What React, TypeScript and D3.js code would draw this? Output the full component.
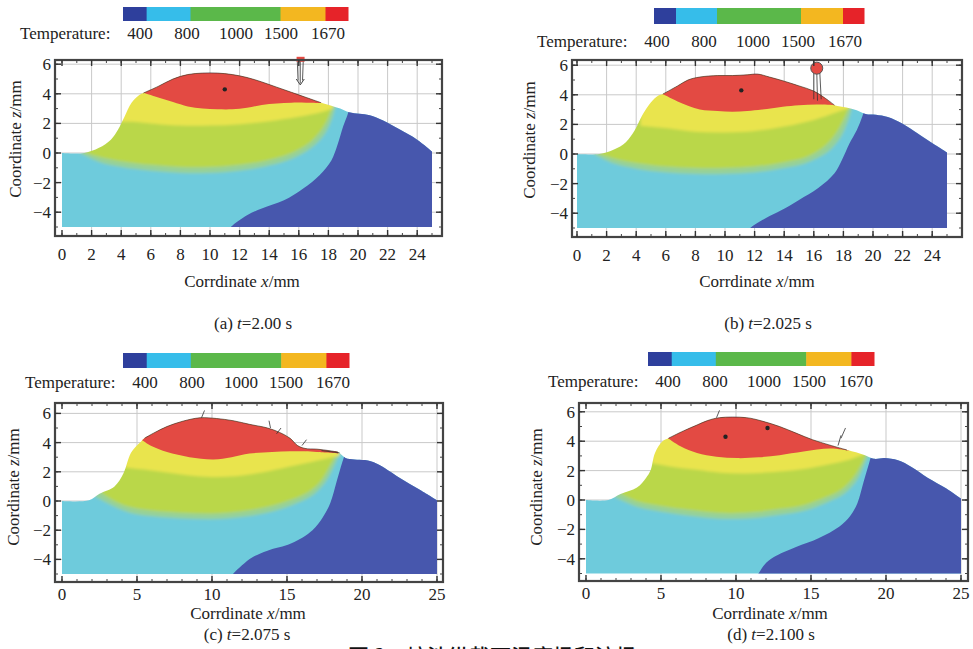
import React from 'react';
import * as d3 from 'd3';

type Pt = [number, number];

// ---- data (mm) ----
const temperatures = ['400', '800', '1000', '1500', '1670'];
const barColors = ['#2e3f9c', '#36bdea', '#5bb84a', '#f3b720', '#e62329'];
const barStops = [0, 0.105, 0.3, 0.7, 0.9, 1];
const yTicks = [-4, -2, 0, 2, 4, 6];
const xTicksFine = [0, 2, 4, 6, 8, 10, 12, 14, 16, 18, 20, 22, 24];
const xTicksCoarse = [0, 5, 10, 15, 20, 25];

const surfaceA: Pt[] = [[0, 0], [1.5, 0], [2.5, 0.35], [3.3, 0.9], [3.8, 1.6], [4.2, 2.4], [4.7, 3.4], [5.2, 3.9], [5.5, 4.05], [6.5, 4.5], [7.5, 5.0], [8.5, 5.3], [9.5, 5.4], [10.5, 5.4], [11.5, 5.3], [12.5, 5.1], [13.5, 4.8], [14.5, 4.45], [15.5, 4.1], [16.5, 3.75], [17.5, 3.4], [18.2, 3.2], [18.8, 3.0], [19.4, 2.75], [20.1, 2.65], [20.8, 2.55], [21.7, 2.2], [22.8, 1.6], [24, 0.9], [25, 0.1]];
const redBottomA: Pt[] = [[5.4, 4.1], [6.5, 3.75], [7.5, 3.45], [8.5, 3.15], [9.5, 3.0], [10.5, 2.95], [11.5, 2.95], [12.5, 3.05], [13.5, 3.25], [14.5, 3.35], [15.5, 3.4], [16.5, 3.4], [17.6, 3.38]];
const yellowBottomA: Pt[] = [[4.0, 2.1], [5, 2.1], [6, 2.0], [8, 1.85], [10, 1.85], [12, 1.95], [14, 2.15], [16, 2.45], [17.5, 2.75], [18.3, 3.0]];
const greenBowlA: Pt[] = [[1.5, 0.05], [2.5, -0.25], [4, -0.55], [6, -0.8], [8, -0.95], [10, -0.95], [12, -0.8], [14, -0.45], [15.5, 0], [16.6, 0.6], [17.4, 1.4], [17.9, 2.2], [18.3, 3.2]];
const tealBowlA: Pt[] = [[1.2, 0.02], [2.5, -0.6], [4, -0.95], [6, -1.2], [8, -1.35], [10, -1.35], [12, -1.2], [14, -0.85], [15.5, -0.4], [16.8, 0.3], [17.7, 1.2], [18.2, 2.2], [18.5, 3.2]];
const blueEdgeA: Pt[] = [[19.6, 3.6], [19.3, 2.6], [19.0, 1.8], [18.6, 0.5], [18.2, -0.5], [17.4, -1.5], [16.3, -2.4], [15.0, -3.2], [13.5, -3.75], [12.5, -4.2], [11.4, -5.0], [11.0, -5.5]];
const dotsA: Pt[] = [[11, 4.3]];
const vectorsA = [[16.1, 6.3, 16.1, 4.7], [15.9, 6.2, 15.95, 4.9], [16.3, 6.2, 16.25, 4.9]];

const surfaceB: Pt[] = [[0, 0], [1.5, 0], [2.5, 0.3], [3.3, 0.8], [3.9, 1.6], [4.4, 2.6], [5.0, 3.5], [5.5, 3.95], [5.8, 4.05], [6.8, 4.6], [7.5, 5.0], [8.3, 5.2], [9.5, 5.3], [10.5, 5.3], [11.5, 5.35], [12.2, 5.4], [13, 5.2], [13.9, 4.95], [15, 4.6], [16, 4.25], [16.8, 3.75], [17.4, 3.3], [18.2, 3.15], [18.9, 2.95], [19.5, 2.7], [20.2, 2.65], [21, 2.5], [22, 2.05], [23, 1.4], [24.2, 0.6], [25, 0.1]];
const redBottomB: Pt[] = [[5.7, 4.1], [6.8, 3.55], [8.3, 3.0], [9.5, 2.9], [10.5, 2.85], [11.5, 2.9], [12.5, 3.0], [13.9, 3.2], [15, 3.3], [16.2, 3.35], [17.4, 3.3]];
const yellowBottomB: Pt[] = [[4.3, 1.9], [6, 1.75], [8, 1.5], [10, 1.45], [12, 1.55], [14, 1.85], [16, 2.3], [17.5, 2.8], [18.4, 3.1]];
const greenBowlB: Pt[] = [[1.4, 0.05], [2.5, -0.3], [4, -0.6], [6, -0.85], [8, -0.95], [10, -0.95], [12, -0.85], [14, -0.55], [15.5, -0.2], [16.7, 0.5], [17.5, 1.4], [18, 2.3], [18.4, 3.2]];
const tealBowlB: Pt[] = [[1.1, 0.02], [2.5, -0.65], [4, -1.0], [6, -1.25], [8, -1.35], [10, -1.35], [12, -1.25], [14, -0.95], [15.5, -0.6], [16.9, 0.1], [17.8, 1.1], [18.3, 2.2], [18.6, 3.2]];
const blueEdgeB: Pt[] = [[19.6, 3.6], [19.3, 2.6], [18.9, 1.6], [18.4, 0.7], [17.9, -0.4], [17.4, -1.3], [16.3, -2.3], [15, -3.1], [13.8, -3.8], [12.8, -4.3], [11.7, -5.0], [11.3, -5.5]];
const dotsB: Pt[] = [[11.1, 4.3]];
const vectorsB = [[16.0, 5.6, 16.0, 3.7], [16.2, 5.6, 16.25, 3.6], [16.4, 5.6, 16.5, 3.7]];
const dropletB: Pt = [16.2, 5.8];

const surfaceC: Pt[] = [[0, 0], [1.8, 0.05], [2.5, 0.5], [3.5, 1.0], [4.1, 1.9], [4.6, 3.3], [5.2, 4.0], [5.5, 4.3], [6.2, 4.7], [7, 5.1], [8, 5.45], [9.2, 5.7], [10.3, 5.65], [11.4, 5.5], [12.5, 5.25], [13.7, 5.0], [14.5, 4.7], [15.2, 4.3], [15.7, 3.8], [16.2, 3.6], [17, 3.55], [17.8, 3.45], [18.4, 3.35], [18.9, 2.95], [19.5, 2.85], [20.2, 2.8], [21, 2.55], [22.5, 1.6], [23.8, 0.8], [25, 0.05]];
const redBottomC: Pt[] = [[5.3, 4.2], [6, 3.75], [7, 3.35], [8.5, 3.0], [10.1, 2.85], [11.3, 3.0], [12.5, 3.25], [14, 3.35], [15.2, 3.4], [16.2, 3.4], [17, 3.35], [18.4, 3.25]];
const yellowBottomC: Pt[] = [[4.2, 2.3], [5.5, 2.15], [7, 1.95], [8.5, 1.75], [10, 1.65], [11.5, 1.7], [13, 1.9], [14.7, 2.25], [16.3, 2.6], [17.6, 2.9], [18.5, 3.1]];
const greenBowlC: Pt[] = [[2.6, 0.6], [3.5, 0], [4.5, -0.4], [6, -0.65], [8, -0.8], [10, -0.85], [12, -0.7], [13.7, -0.4], [15.3, 0.1], [16.4, 0.6], [17.2, 1.3], [17.8, 2.3], [18.3, 3.2]];
const tealBowlC: Pt[] = [[2.2, 0.3], [3.5, -0.4], [4.5, -0.8], [6, -1.05], [8, -1.2], [10, -1.25], [12, -1.1], [13.7, -0.8], [15.3, -0.3], [16.6, 0.3], [17.5, 1.2], [18.1, 2.3], [18.5, 3.2]];
const blueEdgeC: Pt[] = [[19.0, 3.6], [18.7, 2.7], [18.3, 1.3], [17.9, -0.1], [17.4, -1.1], [16.7, -2.0], [15.3, -2.9], [13.7, -3.4], [12.7, -3.85], [12, -4.4], [11.4, -5.0], [11.0, -5.5]];
const dotsC: Pt[] = [];
const vectorsC = [[9.3, 5.7, 9.5, 6.2], [13.9, 5.0, 13.8, 5.5], [14.3, 4.6, 14.6, 5.0], [16.0, 3.8, 16.3, 4.2], [17.3, 3.45, 18.5, 3.3]];

const surfaceD: Pt[] = [[0, 0], [1.5, 0], [2.3, 0.4], [3.4, 0.85], [4.0, 1.5], [4.3, 2.0], [4.6, 3.2], [5.1, 4.0], [5.5, 4.2], [6.5, 4.7], [7.4, 5.1], [8.1, 5.4], [8.9, 5.6], [10.7, 5.6], [11.8, 5.35], [12.9, 5.0], [14, 4.55], [15.1, 4.1], [16.2, 3.75], [17.4, 3.4], [18, 3.25], [18.6, 3.05], [19.2, 2.8], [19.9, 2.85], [20.8, 2.7], [21.7, 2.25], [22.8, 1.5], [24, 0.8], [25, 0.1]];
const redBottomD: Pt[] = [[5.4, 4.25], [6.3, 3.65], [7.4, 3.2], [8.7, 2.95], [10.1, 2.85], [11.5, 2.9], [12.9, 3.05], [14.5, 3.3], [16.3, 3.5], [17.5, 3.35]];
const yellowBottomD: Pt[] = [[4.4, 2.5], [5.5, 2.3], [7.4, 2.05], [9, 1.85], [10.7, 1.8], [12.5, 1.9], [14.1, 2.05], [15.8, 2.35], [17.4, 2.7], [18.5, 3.1]];
const greenBowlD: Pt[] = [[2.3, 0.45], [3.5, -0.1], [5, -0.4], [6.3, -0.6], [8, -0.8], [9.6, -0.9], [11.5, -0.8], [13, -0.6], [14.5, -0.35], [16, 0.2], [17, 0.7], [17.8, 1.5], [18.4, 2.5], [18.7, 3.2]];
const tealBowlD: Pt[] = [[1.9, 0.2], [3.5, -0.5], [5, -0.8], [6.3, -1.0], [8, -1.2], [9.6, -1.3], [11.5, -1.2], [13, -1.0], [14.5, -0.75], [16, -0.2], [17.2, 0.4], [18.1, 1.4], [18.6, 2.5], [18.9, 3.2]];
const blueEdgeD: Pt[] = [[19.2, 3.6], [18.9, 2.6], [18.5, 1.2], [18.1, -0.2], [17.6, -1.1], [16.9, -1.8], [15.5, -2.6], [14, -3.2], [12.5, -3.9], [11.9, -4.4], [11.5, -5.0], [11.1, -5.5]];
const dotsD: Pt[] = [[9.3, 4.3], [12.1, 4.9]];
const vectorsD = [[8.7, 5.6, 8.9, 6.1], [16.8, 3.7, 17.0, 4.4], [17.0, 4.2, 17.3, 4.9]];

const captions = ['2.00', '2.025', '2.075', '2.100'];
const letters = ['a', 'b', 'c', 'd'];

// colours of the field
const C_RED = '#e34a43';
const C_YELLOW = '#e9e44e';
const C_YG = '#bad74a';
const C_TEAL = '#97d197';
const C_CYAN = '#6ecbdc';
const C_BLUE = '#4757ad';

const labelOffsets = [120, 167, 216, 261, 308];

const panels = [
  { surface: surfaceA, red: redBottomA, yellow: yellowBottomA, green: greenBowlA, teal: tealBowlA, blue: blueEdgeA, dots: dotsA, vectors: vectorsA, droplet: null as Pt | null, xTicks: xTicksFine,
    L: { frame: [55, 60, 442, 236], x0: 62, ux: 14.8, z0: 153, uz: 14.8, bar: [123, 7, 225, 14], temp: [20, 39], xTitle: [242, 287], yTitle: [21, 139], cap: [253, 329], tickDy: 24 } },
  { surface: surfaceB, red: redBottomB, yellow: yellowBottomB, green: greenBowlB, teal: tealBowlB, blue: blueEdgeB, dots: dotsB, vectors: vectorsB, droplet: dropletB, xTicks: xTicksFine,
    L: { frame: [572, 60, 962, 237], x0: 577, ux: 14.8, z0: 154, uz: 14.8, bar: [654, 8, 210, 16], temp: [537, 47], xTitle: [757, 287], yTitle: [535, 140], cap: [768, 329], tickDy: 24 } },
  { surface: surfaceC, red: redBottomC, yellow: yellowBottomC, green: greenBowlC, teal: tealBowlC, blue: blueEdgeC, dots: dotsC, vectors: vectorsC, droplet: null as Pt | null, xTicks: xTicksCoarse,
    L: { frame: [55, 403, 443, 582], x0: 62, ux: 15, z0: 501, uz: 14.6, bar: [123, 353, 226, 15], temp: [25, 388], xTitle: [248, 619], yTitle: [19, 487], cap: [247, 640], tickDy: 18 } },
  { surface: surfaceD, red: redBottomD, yellow: yellowBottomD, green: greenBowlD, teal: tealBowlD, blue: blueEdgeD, dots: dotsD, vectors: vectorsD, droplet: null as Pt | null, xTicks: xTicksCoarse,
    L: { frame: [579, 403, 968, 581], x0: 586, ux: 15, z0: 500, uz: 14.7, bar: [648, 352, 226, 14], temp: [548, 387], xTitle: [770, 619], yTitle: [542, 487], cap: [771, 640], tickDy: 18 } },
];

const FONT = 'Liberation Serif, Tinos, DejaVu Serif, serif';

function Panel({ p, i }: { p: typeof panels[number]; i: number }) {
  const L = p.L;
  const [fl, ft, fr, fb] = L.frame;
  const xs = d3.scaleLinear().domain([0, 25]).range([L.x0, L.x0 + 25 * L.ux]);
  const zs = d3.scaleLinear().domain([0, 6]).range([L.z0, L.z0 - 6 * L.uz]);
  const xMin = xs.invert(fl), xMax = xs.invert(fr);
  const zMin = zs.invert(fb), zMax = zs.invert(ft);
  const line = d3.line<Pt>().x(d => xs(d[0])).y(d => zs(d[1])).curve(d3.curveCatmullRom.alpha(0.5));
  const above = (c: Pt[]) => `${line(c)}L${xs(c[c.length - 1][0])},${zs(8)}L${xs(c[0][0])},${zs(8)}Z`;
  const outline = `${line(p.surface)}L${xs(25)},${zs(-5)}L${xs(0)},${zs(-5)}Z`;
  const blueArea = `${line(p.blue)}L${xs(27)},${zs(-6)}L${xs(27)},${zs(8)}Z`;
  const redTop = p.surface.filter(d => d[0] >= p.red[0][0] && d[0] <= p.red[p.red.length - 1][0]);
  const clipId = `clip-${i}`;
  const blurId = `blur-${i}`;

  const gridX = p.xTicks.filter(t => t > 0);
  const minorX = d3.range(Math.ceil(xMin), Math.floor(xMax) + 1);
  const minorZ = d3.range(Math.ceil(zMin), Math.floor(zMax) + 1);
  const [bx, by, bw, bh] = L.bar;
  const txt = { fontFamily: FONT, fontSize: 17, fill: '#222' };

  return (
    <g>
      <defs>
        <clipPath id={clipId}><path d={outline} /></clipPath>
        <filter id={blurId} x="-10%" y="-10%" width="120%" height="120%">
          <feGaussianBlur stdDeviation="1.8" />
        </filter>
      </defs>

      {/* colour bar */}
      {barColors.map((c, k) => (
        <rect key={k} x={bx + barStops[k] * bw} y={by} width={(barStops[k + 1] - barStops[k]) * bw + 0.5} height={bh} fill={c} />
      ))}
      <text x={L.temp[0]} y={L.temp[1]} {...txt}>Temperature:</text>
      {temperatures.map((t, k) => (
        <text key={t} x={L.temp[0] + labelOffsets[k]} y={L.temp[1]} textAnchor="middle" {...txt}>{t}</text>
      ))}

      {/* grid */}
      {gridX.map(t => (
        <line key={'gx' + t} x1={xs(t)} x2={xs(t)} y1={ft} y2={fb} stroke="#c9c9c9" strokeWidth={1} />
      ))}
      {yTicks.map(t => (
        <line key={'gz' + t} x1={fl} x2={fr} y1={zs(t)} y2={zs(t)} stroke="#c9c9c9" strokeWidth={1} />
      ))}

      {/* temperature field */}
      <g clipPath={`url(#${clipId})`}>
        <g filter={`url(#${blurId})`}>
          <rect x={fl - 10} y={ft - 10} width={fr - fl + 20} height={fb - ft + 20} fill={C_CYAN} />
          <path d={above(p.teal)} fill={C_TEAL} />
          <path d={above(p.green)} fill={C_YG} />
          <path d={above(p.yellow)} fill={C_YELLOW} />
        </g>
        <path d={above(p.red)} fill={C_RED} />
        <path d={blueArea} fill={C_BLUE} />
      </g>
      <path d={line(redTop) || ''} fill="none" stroke="#3a2a2a" strokeWidth={0.9} strokeOpacity={0.7} />

      {/* flow marks */}
      {p.vectors.map((v, k) => (
        <line key={'v' + k} x1={xs(v[0])} y1={zs(v[1])} x2={xs(v[2])} y2={zs(v[3])} stroke="#333" strokeWidth={1} strokeOpacity={0.8} />
      ))}
      {p.dots.map((d, k) => (
        <circle key={'d' + k} cx={xs(d[0])} cy={zs(d[1])} r={2.2} fill="#222" />
      ))}
      {p.droplet && (
        <circle cx={xs(p.droplet[0])} cy={zs(p.droplet[1])} r={6} fill={C_RED} stroke="#555" strokeWidth={1} />
      )}
      {i === 0 && (
        <>
          <rect x={xs(15.85)} y={zs(6.5)} width={8} height={5} fill={C_RED} />
          <path d={`M${xs(16.1) - 4},${zs(5.0)}L${xs(16.1)},${zs(4.6)}L${xs(16.1) + 4},${zs(5.0)}`} fill="none" stroke="#444" strokeWidth={1} />
        </>
      )}

      {/* frame and ticks */}
      <rect x={fl} y={ft} width={fr - fl} height={fb - ft} fill="none" stroke="#444" strokeWidth={2.2} />
      {minorX.map(t => (
        <g key={'mx' + t}>
          <line x1={xs(t)} x2={xs(t)} y1={fb} y2={fb - 3} stroke="#444" />
          <line x1={xs(t)} x2={xs(t)} y1={ft} y2={ft + 3} stroke="#444" />
        </g>
      ))}
      {minorZ.map(t => (
        <g key={'mz' + t}>
          <line x1={fl} x2={fl + 3} y1={zs(t)} y2={zs(t)} stroke="#444" />
          <line x1={fr} x2={fr - 3} y1={zs(t)} y2={zs(t)} stroke="#444" />
        </g>
      ))}
      {p.xTicks.map(t => (
        <g key={'tx' + t}>
          <line x1={xs(t)} x2={xs(t)} y1={fb} y2={fb - 6} stroke="#333" strokeWidth={1.4} />
          <line x1={xs(t)} x2={xs(t)} y1={ft} y2={ft + 6} stroke="#333" strokeWidth={1.4} />
          <text x={xs(t)} y={fb + L.tickDy} textAnchor="middle" {...txt}>{t}</text>
        </g>
      ))}
      {yTicks.map(t => (
        <g key={'tz' + t}>
          <line x1={fl} x2={fl + 6} y1={zs(t)} y2={zs(t)} stroke="#333" strokeWidth={1.4} />
          <line x1={fr} x2={fr - 6} y1={zs(t)} y2={zs(t)} stroke="#333" strokeWidth={1.4} />
          <text x={fl - 4} y={zs(t) + 6} textAnchor="end" {...txt}>{t < 0 ? '\u2212' + Math.abs(t) : t}</text>
        </g>
      ))}

      {/* titles */}
      <text x={L.xTitle[0]} y={L.xTitle[1]} textAnchor="middle" {...txt}>
        Corrdinate <tspan fontStyle="italic">x</tspan>/mm
      </text>
      <text transform={`translate(${L.yTitle[0]},${L.yTitle[1]}) rotate(-90)`} textAnchor="middle" {...txt}>
        Coordinate <tspan fontStyle="italic">z</tspan>/mm
      </text>
      <text x={L.cap[0]} y={L.cap[1]} textAnchor="middle" {...txt}>
        ({letters[i]}) <tspan fontStyle="italic">t</tspan>={captions[i]} s
      </text>
    </g>
  );
}

export default function App() {
  return (
    <svg width={973} height={649} style={{ position: 'absolute', left: 0, top: 0, background: '#fff' }}>
      <rect width={973} height={649} fill="#fff" />
      {panels.map((p, i) => <Panel key={i} p={p} i={i} />)}
      <text x={348} y={664} fontFamily="Noto Sans CJK SC, sans-serif" fontSize={21} fontWeight={500} fill="#111">图 2</text>
      <text x={406} y={664} fontFamily="Noto Sans CJK SC, sans-serif" fontSize={21} fontWeight={500} fill="#111">熔池纵截面温度场和流场</text>
    </svg>
  );
}
